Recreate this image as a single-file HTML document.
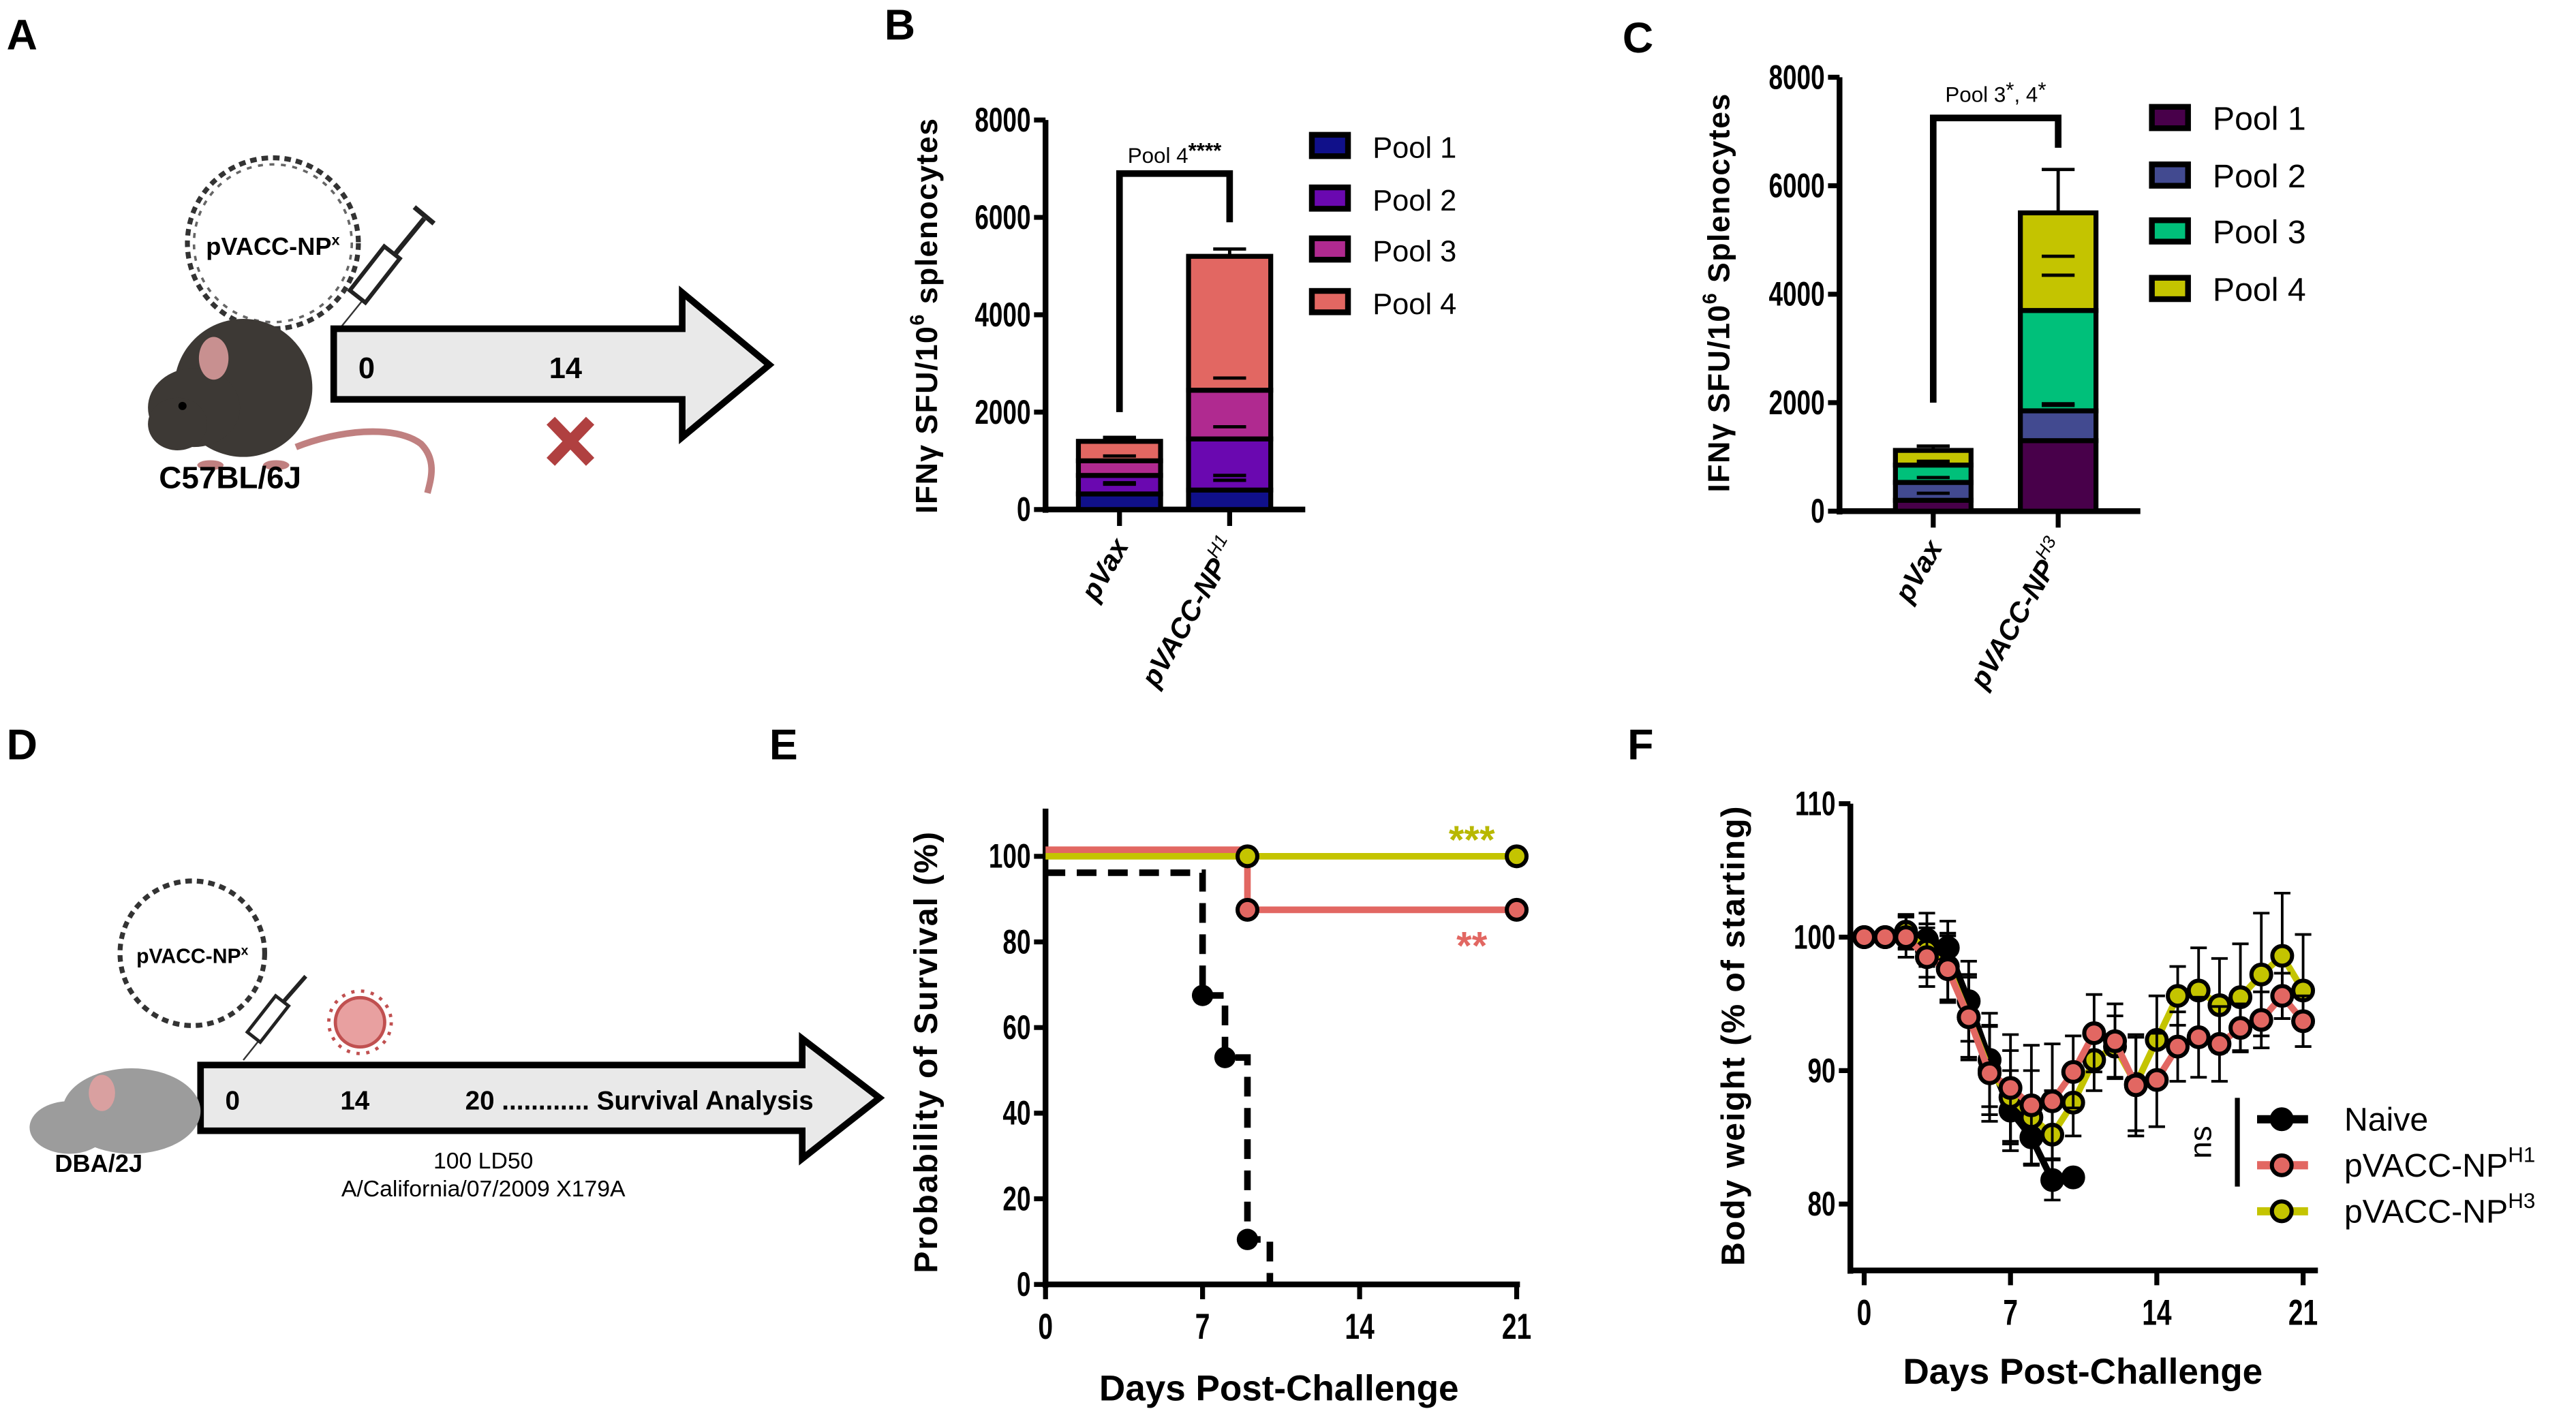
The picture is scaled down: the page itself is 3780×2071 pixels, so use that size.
<!DOCTYPE html>
<html><head><meta charset="utf-8"><style>
html,body{margin:0;padding:0;background:#fff;}
svg{display:block;font-family:"Liberation Sans",Arial,sans-serif;}
.b{font-weight:bold;}
</style></head><body>
<svg id="fig" width="3780" height="2071" viewBox="0 0 1567 858.5" xmlns="http://www.w3.org/2000/svg">
<g font-size="26" font-weight="bold">
<text x="4" y="30">A</text>
<text x="538" y="24">B</text>
<text x="987" y="32">C</text>
<text x="4" y="462">D</text>
<text x="468" y="462">E</text>
<text x="990" y="462">F</text>
</g>

<g>
<circle cx="166" cy="148" r="52" fill="none" stroke="#333" stroke-width="3" stroke-dasharray="4 3"/>
<circle cx="166" cy="148" r="48" fill="none" stroke="#666" stroke-width="1.5" stroke-dasharray="3 4"/>
<text x="166" y="155" text-anchor="middle" font-size="15" class="b">pVACC-NP<tspan font-size="9" dy="-6">x</tspan></text>
<g>
<line x1="205" y1="202" x2="226" y2="176" stroke="#333" stroke-width="1"/>
<rect x="222" y="150" width="12" height="34" fill="#fff" stroke="#222" stroke-width="2.5" transform="rotate(38 228 167)"/>
<line x1="240" y1="155" x2="258" y2="133" stroke="#222" stroke-width="3"/>
<line x1="252" y1="126" x2="264" y2="136" stroke="#222" stroke-width="3"/>
</g>
<path d="M203,200 L415,200 L415,178 L468,222 L415,266 L415,243 L203,243 Z" fill="#e9e9e9" stroke="#000" stroke-width="4" stroke-linejoin="miter"/>
<text x="218" y="230" font-size="18" class="b">0</text>
<text x="334" y="230" font-size="18" class="b">14</text>
<g stroke="#b04040" stroke-width="7"><line x1="335" y1="256" x2="359" y2="281"/><line x1="359" y1="256" x2="335" y2="281"/></g>
<g>
<path d="M180,272 C205,262 240,258 256,270 C266,280 262,292 260,300" fill="none" stroke="#c08080" stroke-width="4"/>
<ellipse cx="148" cy="236" rx="42" ry="42" fill="#3d3935"/>
<ellipse cx="118" cy="248" rx="28" ry="24" fill="#3d3935"/>
<ellipse cx="108" cy="258" rx="18" ry="16" fill="#3d3935"/>
<ellipse cx="130" cy="218" rx="9" ry="13" fill="#c89090"/>
<circle cx="111" cy="247" r="2.5" fill="#000"/>
<ellipse cx="128" cy="283" rx="8" ry="3" fill="#c08080"/>
<ellipse cx="168" cy="283" rx="8" ry="3" fill="#c08080"/>
</g>
<text x="140" y="297" text-anchor="middle" font-size="19" class="b">C57BL/6J</text>
</g>

<g>
<circle cx="117" cy="580" r="44" fill="none" stroke="#333" stroke-width="3" stroke-dasharray="4 3"/>
<text x="117" y="586" text-anchor="middle" font-size="12.5" class="b">pVACC-NP<tspan font-size="8" dy="-5">x</tspan></text>
<g>
<line x1="148" y1="645" x2="160" y2="630" stroke="#333" stroke-width="1"/>
<rect x="158" y="606" width="10" height="28" fill="#fff" stroke="#222" stroke-width="2" transform="rotate(38 163 620)"/>
<line x1="172" y1="610" x2="186" y2="594" stroke="#222" stroke-width="2.5"/>
</g>
<g>
<circle cx="219" cy="622" r="15" fill="#e8a0a0" stroke="#c05050" stroke-width="2"/>
<circle cx="219" cy="622" r="19" fill="none" stroke="#c05050" stroke-width="2" stroke-dasharray="2 4"/>
</g>
<path d="M122,648 L488,648 L488,632 L535,668 L488,705 L488,688 L122,688 Z" fill="#e9e9e9" stroke="#000" stroke-width="4"/>
<text x="137" y="675" font-size="16" class="b">0</text>
<text x="207" y="675" font-size="16" class="b">14</text>
<text x="283" y="675" font-size="16" class="b">20 ............ Survival Analysis</text>
<text x="294" y="711" text-anchor="middle" font-size="14">100 LD50</text>
<text x="294" y="728" text-anchor="middle" font-size="14">A/California/07/2009 X179A</text>
<g>
<ellipse cx="80" cy="676" rx="42" ry="26" fill="#9c9c9c"/>
<ellipse cx="42" cy="686" rx="24" ry="16" fill="#9c9c9c"/>
<ellipse cx="62" cy="665" rx="8" ry="11" fill="#d9a0a0"/>
</g>
<text x="60" y="713" text-anchor="middle" font-size="15" class="b">DBA/2J</text>
</g>

<g id="charts"></g>
</svg>
<script>
// ---------- Panel B data ----------
const bCategories = ['pVax', 'pVACC-NP'];
const bPool1 = [320, 400];
const bPool2 = [380, 1050];
const bPool3 = [300, 1000];
const bPool4 = [400, 2750];
const bErr = [[550, 600],[520, 700],[1100, 1700],[1480, 2700]];
const bTopErr = [1480, 5350];
const bTicks = [0, 2000, 4000, 6000, 8000];
// ---------- Panel C data ----------
const cCategories = ['pVax', 'pVACC-NP'];
const cPool1 = [200, 1300];
const cPool2 = [330, 550];
const cPool3 = [320, 1850];
const cPool4 = [270, 1800];
const cErr = [[330, 1950],[620, 1980],[920, 4350],[1200, 4700]];
const cTopErr = [1200, 6300];
const cTicks = [0, 2000, 4000, 6000, 8000];
// ---------- Panel E data ----------
const survDays = [0, 7, 8, 9, 10];
const survNaive = [100, 67.5, 53, 10.5, 0];
const survH1Days = [0, 9, 21];
const survH1 = [100, 87.5, 87.5];
const survH3Days = [0, 9, 21];
const survH3 = [100, 100, 100];
const eYTicks = [0, 20, 40, 60, 80, 100];
const eXTicks = [0, 7, 14, 21];
// ---------- Panel F data ----------
const wDaysNaive = [0,1,2,3,4,5,6,7,8,9,10];
const wNaive = [100,100,100.4,99.8,99.2,95.2,90.8,87,85,81.8,82];
const wNaiveErr = [0,0,1.2,2,2,3,3.5,3,2,1.5,0];
const wDays = [0,1,2,3,4,5,6,7,8,9,10,11,12,13,14,15,16,17,18,19,20,21];
const wH1 = [100,100,100,98.5,97.6,94,89.8,88.7,87.4,87.7,89.9,92.8,92.2,88.9,89.3,91.8,92.5,92,93.2,93.8,95.6,93.7];
const wH1Err = [0,0,1.5,2.2,2.5,3.2,3.6,4,4.5,4.3,2.7,2.9,2.8,3.8,3.5,2.6,3,2.8,1.8,2.1,1.7,1.9];
const wH3 = [100,100,100.4,99,97.8,94,90,88,86.5,85.2,87.6,90.8,91.8,89,92.3,95.6,96,94.9,95.5,97.2,98.6,96];
const wH3Err = [0,0,1.3,2,2.5,3,3.3,3.5,3.5,3.3,2.5,2.3,2.3,3.5,3.3,2.2,3.2,3.5,4,4.6,4.7,4.2];
const fYTicks = [80, 90, 100, 110];
const fXTicks = [0, 7, 14, 21];

const NS = 'http://www.w3.org/2000/svg';
const root = document.getElementById('charts');
function mk(tag, attrs, parent) {
  const e = document.createElementNS(NS, tag);
  for (const k in attrs) e.setAttribute(k, attrs[k]);
  (parent || root).appendChild(e);
  return e;
}
function tick(g, x, y, txt, anchor, fs) {
  const tl = mk('text', {x:x, y:y, 'text-anchor':anchor, 'font-size':fs, 'font-weight':'bold', transform:'translate('+x+' '+y+') scale(0.85 1.15) translate('+(-x)+' '+(-y)+')'}, g);
  tl.textContent = txt;
  return tl;
}

function barPanel(o) {
  const g = mk('g', {});
  
  
  const y = v => o.y0 - (v / 8000) * (o.y0 - o.y8);
  const x = i => o.cx[i];
  const ax = mk('line', {x1:o.ax, y1:o.y8, x2:o.ax, y2:o.y0+2, stroke:'#000','stroke-width':3.5}, g);
  
  
  o.ticks.forEach(t => {
    mk('line', {x1:o.ax-7, y1:y(t), x2:o.ax, y2:y(t), stroke:'#000','stroke-width':3}, g);
    const tl = tick(g, o.ax-9, y(t)+7, t, 'end', 18);
    
    
  });
  const xa = mk('line', {x1:o.ax, y1:o.y0, x2:o.axEnd, y2:o.y0, stroke:'#000','stroke-width':3.5}, g);
  
  
  const pools = [o.p1, o.p2, o.p3, o.p4];
  o.cats.forEach((c, i) => {
    mk('line', {x1:x(i), y1:o.y0, x2:x(i), y2:o.y0+10, stroke:'#000','stroke-width':3}, g);
    let cum = 0;
    const top = pools.reduce((s,p)=>s+p[i],0);
    mk('line', {x1:x(i), y1:y(top), x2:x(i), y2:y(o.topErr[i]), stroke:'#000','stroke-width':2}, g);
    mk('line', {x1:x(i)-10, y1:y(o.topErr[i]), x2:x(i)+10, y2:y(o.topErr[i]), stroke:'#000','stroke-width':2}, g);
    pools.forEach((p, k) => {
      const r = mk('rect', {x:x(i)-o.bw/2, y:y(cum+p[i]), width:o.bw, height:y(cum)-y(cum+p[i]), fill:o.colors[k], stroke:'#000','stroke-width':3}, g);
      
      
      cum += p[i];
    });
    o.err.forEach(e => {
      mk('line', {x1:x(i)-10, y1:y(e[i]), x2:x(i)+10, y2:y(e[i]), stroke:'#000','stroke-width':2}, g);
    });
    const lab = mk('text', {x:x(i)+6, y:o.y0+22, 'text-anchor':'end','font-size':17,'font-weight':'bold','font-style':'italic', transform:'rotate(-60 '+(x(i)+6)+' '+(o.y0+22)+')'}, g);
    lab.appendChild(document.createTextNode(c));
    if (i === 1) { const s = mk('tspan', {'font-size':11, dy:-8, 'font-weight':'normal'}, lab); s.textContent = o.sup; }
    
    
  });
  const br = mk('path', {d:'M'+x(0)+','+y(2000)+' L'+x(0)+','+y(o.brTop)+' L'+x(1)+','+y(o.brTop)+' L'+x(1)+','+y(o.brEnd), fill:'none', stroke:'#000','stroke-width':4}, g);
  
  
  const st = mk('text', {x:(x(0)+x(1))/2, y:o.sigY, 'text-anchor':'middle','font-size':13}, g);
  st.innerHTML = o.sig;
  
  
  const yt = mk('text', {x:o.ytx, y:o.yty, 'text-anchor':'middle','font-size':18.5,'font-weight':'bold', transform:'rotate(-90 '+o.ytx+' '+o.yty+')', 'letter-spacing':'0.6'}, g);
  yt.innerHTML = 'IFNγ SFU/10<tspan font-size="12" dy="-8">6</tspan><tspan dy="8"> '+o.ytWord+'</tspan>';
  
  
  for (let k = 0; k < 4; k++) {
    const ly = o.legY[k];
    const sw = mk('rect', {x:o.legX, y:ly-7, width:22, height:13, fill:o.colors[k], stroke:'#000','stroke-width':3.5}, g);
    
    
    const lt = mk('text', {x:o.legX+37, y:ly+7, 'font-size':o.legFs}, g);
    lt.textContent = 'Pool ' + (k+1);
    
    
  }
}
barPanel({name:'panel-b-chart', cats:bCategories, p1:bPool1, p2:bPool2, p3:bPool3, p4:bPool4, err:bErr, topErr:bTopErr, ticks:bTicks,
  ax:636, y0:310, y8:73, axEnd:794, cx:[681,748], bw:50, colors:['#10108a','#6a08b0','#b02a90','#e26762'], sup:'H1',
  brTop:6900, brEnd:5900, sig:'Pool 4<tspan font-weight="bold" dy="-3">****</tspan>', sigY:99, ytx:570, yty:192, ytWord:'splenocytes',
  legX:798, legY:[89,121,152,184], legFs:18});
barPanel({name:'panel-c-chart', cats:cCategories, p1:cPool1, p2:cPool2, p3:cPool3, p4:cPool4, err:cErr, topErr:cTopErr, ticks:cTicks,
  ax:1119, y0:311, y8:47, axEnd:1302, cx:[1176,1252], bw:46, colors:['#48004a','#424a90','#00c07a','#c4c400'], sup:'H3',
  brTop:7250, brEnd:6700, sig:'Pool 3<tspan dy="-3">*</tspan><tspan dy="3">, 4</tspan><tspan dy="-3">*</tspan>', sigY:62, ytx:1052, yty:178, ytWord:'Splenocytes',
  legX:1309, legY:[72,107,141,176], legFs:20});

(function(){
  const g = mk('g', {});
  
  
  const X0 = 636, Y0 = 781.5, Y100 = 521;
  const x = d => X0 + d * (922.6 - X0) / 21;
  const y = v => Y0 - v / 100 * (Y0 - Y100);
  const ya = mk('line', {x1:X0, y1:492, x2:X0, y2:Y0+2, stroke:'#000','stroke-width':3.5}, g);
  
  
  const xa = mk('line', {x1:X0, y1:Y0, x2:x(21)+2, y2:Y0, stroke:'#000','stroke-width':3.5}, g);
  
  
  eYTicks.forEach(t => {
    mk('line', {x1:X0-7, y1:y(t), x2:X0, y2:y(t), stroke:'#000','stroke-width':3}, g);
    const tl = tick(g, X0-9, y(t)+7, t, 'end', 18);
    
    
  });
  eXTicks.forEach(t => {
    mk('line', {x1:x(t), y1:Y0, x2:x(t), y2:Y0+9, stroke:'#000','stroke-width':3}, g);
    const tl = tick(g, x(t), Y0+33, t, 'middle', 19);
    
    
  });
  function step(days, vals, off, color, dash) {
    let d = 'M' + x(days[0]) + ',' + (y(vals[0]) + off);
    for (let i = 1; i < days.length; i++) {
      d += ' L' + x(days[i]) + ',' + (y(vals[i-1]) + (i-1===0?off:0)) + ' L' + x(days[i]) + ',' + y(vals[i]);
    }
    return mk('path', {d:d, fill:'none', stroke:color, 'stroke-width':4, 'stroke-dasharray':dash||'none'}, g);
  }
  const h3 = step(survH3Days, survH3, 0, '#c4c400');
  
  
  const h1 = step(survH1Days, survH1, -4, '#e26762');
  
  
  const nv = step(survDays, survNaive, 10, '#000', '12 7');
  
  
  for (let i = 1; i < survDays.length - 1; i++) {
    const c = mk('circle', {cx:x(survDays[i]), cy:y(survNaive[i]), r:6.5, fill:'#000'}, g);
    
    
  }
  for (let i = 1; i < survH1Days.length; i++) {
    const c = mk('circle', {cx:x(survH1Days[i]), cy:y(survH1[i]), r:6, fill:'#e26762', stroke:'#000','stroke-width':2.5}, g);
    
    
  }
  for (let i = 1; i < survH3Days.length; i++) {
    const c = mk('circle', {cx:x(survH3Days[i]), cy:y(survH3[i]), r:6, fill:'#c4c400', stroke:'#000','stroke-width':2.5}, g);
    
    
  }
  const s3 = mk('text', {x:x(19), y:y(100)-2, 'text-anchor':'middle','font-size':24,'font-weight':'bold',fill:'#b8b800'}, g);
  s3.textContent = '***';
  
  
  const s1 = mk('text', {x:x(19), y:y(87.5)+30, 'text-anchor':'middle','font-size':24,'font-weight':'bold',fill:'#e26762'}, g);
  s1.textContent = '**';
  
  
  const yt = mk('text', {x:570, y:640, 'text-anchor':'middle','font-size':20,'font-weight':'bold','letter-spacing':'0.8', transform:'rotate(-90 570 640)'}, g);
  yt.textContent = 'Probability of Survival (%)';
  
  
  const xt = mk('text', {x:778, y:852, 'text-anchor':'middle','font-size':22,'font-weight':'bold'}, g);
  xt.textContent = 'Days Post-Challenge';
  
  
})();

(function(){
  const g = mk('g', {});
  
  
  const AX = 1125.6, XB = 773;
  const x = d => 1134 + d * (1401 - 1134) / 21;
  const y = v => 732.6 - (v - 80) / 30 * (732.6 - 489);
  const ya = mk('line', {x1:AX, y1:489, x2:AX, y2:XB+2, stroke:'#000','stroke-width':3.5}, g);
  
  
  const xa = mk('line', {x1:AX, y1:XB, x2:1410, y2:XB, stroke:'#000','stroke-width':3.5}, g);
  
  
  fYTicks.forEach(t => {
    mk('line', {x1:AX-7, y1:y(t), x2:AX, y2:y(t), stroke:'#000','stroke-width':3}, g);
    const tl = tick(g, AX-9, y(t)+7, t, 'end', 18);
    
    
  });
  fXTicks.forEach(t => {
    mk('line', {x1:x(t), y1:XB, x2:x(t), y2:XB+9, stroke:'#000','stroke-width':3}, g);
    const tl = tick(g, x(t), XB+33, t, 'middle', 19);
    
    
  });
  function series(days, vals, errs, color, fill, name) {
    const sg = mk('g', {}, g);
    
    
    days.forEach((d, i) => {
      if (errs[i] > 0) {
        mk('line', {x1:x(d), y1:y(vals[i]-errs[i]), x2:x(d), y2:y(vals[i]+errs[i]), stroke:'#000','stroke-width':1.6}, sg);
        mk('line', {x1:x(d)-5, y1:y(vals[i]+errs[i]), x2:x(d)+5, y2:y(vals[i]+errs[i]), stroke:'#000','stroke-width':1.6}, sg);
        mk('line', {x1:x(d)-5, y1:y(vals[i]-errs[i]), x2:x(d)+5, y2:y(vals[i]-errs[i]), stroke:'#000','stroke-width':1.6}, sg);
      }
    });
    const pts = days.map((d, i) => x(d) + ',' + y(vals[i])).join(' ');
    const pl = mk('polyline', {points:pts, fill:'none', stroke:color, 'stroke-width':4}, sg);
    
    
    days.forEach((d, i) => {
      const c = mk('circle', {cx:x(d), cy:y(vals[i]), r:6, fill:fill, stroke:'#000','stroke-width':2.5}, sg);
      
      
    });
  }
  series(wDaysNaive, wNaive, wNaiveErr, '#000', '#000', 'naive-series');
  series(wDays, wH3, wH3Err, '#c4c400', '#c4c400', 'h3-series');
  series(wDays, wH1, wH1Err, '#e26762', '#e26762', 'h1-series');
  const leg = [['Naive','#000','#000',''],['pVACC-NP','#e26762','#e26762','H1'],['pVACC-NP','#c4c400','#c4c400','H3']];
  const ly = [681, 709, 737];
  leg.forEach((l, k) => {
    mk('line', {x1:1373, y1:ly[k], x2:1404, y2:ly[k], stroke:l[1], 'stroke-width':5}, g);
    const c = mk('circle', {cx:1388, cy:ly[k], r:6, fill:l[2], stroke:'#000','stroke-width':2.5}, g);
    
    
    const t = mk('text', {x:1426, y:ly[k]+7, 'font-size':20}, g);
    t.appendChild(document.createTextNode(l[0]));
    if (l[3]) { const s = mk('tspan', {'font-size':13, dy:-9}, t); s.textContent = l[3]; }
    
    
  });
  mk('line', {x1:1361, y1:668, x2:1361, y2:722, stroke:'#000','stroke-width':3}, g);
  const ns = mk('text', {x:1345, y:695, 'text-anchor':'middle','font-size':19, transform:'rotate(-90 1345 695)'}, g);
  ns.textContent = 'ns';
  
  
  const yt = mk('text', {x:1061, y:630, 'text-anchor':'middle','font-size':20,'font-weight':'bold','letter-spacing':'0.8', transform:'rotate(-90 1061 630)'}, g);
  yt.textContent = 'Body weight (% of starting)';
  
  
  const xt = mk('text', {x:1267, y:842, 'text-anchor':'middle','font-size':22,'font-weight':'bold'}, g);
  xt.textContent = 'Days Post-Challenge';
  
  
})();
</script>
</body></html>
